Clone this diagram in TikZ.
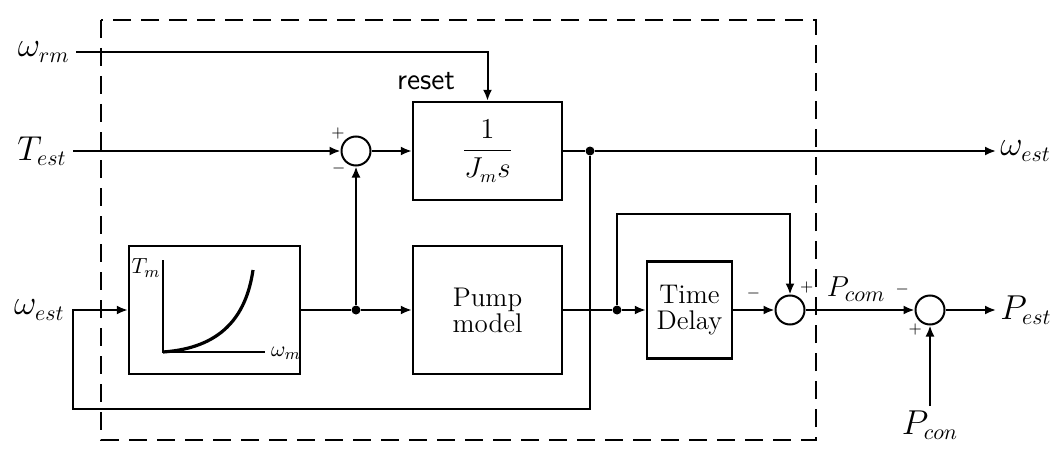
\documentclass[tikz,border=0pt]{standalone}
\usetikzlibrary{arrows.meta, positioning}
\begin{document}
\begin{tikzpicture}[x=0.5pt, y=-0.5pt,
	block/.style={rectangle, draw=black, line width=1.2pt, align=center, inner sep=0pt,
	              font=\fontsize{13.5}{14}\selectfont},
	sumnode/.style={circle, draw=black, line width=1pt, minimum size=14.5pt, inner sep=0pt},
	dot/.style={circle, fill=black, minimum size=4.5pt, inner sep=0pt},
	sig/.style={line width=1pt},
	arr/.style={-{Latex[length=5.5pt,width=4.5pt]}, line width=1pt},
	lbl/.style={font=\fontsize{16}{18}\selectfont, inner sep=1pt},
	sgn/.style={font=\fontsize{8}{9}\selectfont, inner sep=0pt}
	]
\useasboundingbox (0,0) rectangle (1059,449);

% Rahmen des Beobachters
\draw[dash pattern=on 9pt off 5pt, line width=0.7pt] (101,20) rectangle (816,440);

% Bloecke
\node[block, minimum width=74.5pt, minimum height=49pt] (J) at (487.5,151) {$\displaystyle\frac{1}{J_m s}$};
\node[block, minimum width=85.5pt, minimum height=64pt] (curve) at (214.5,310) {};
\node[block, minimum width=74.5pt, minimum height=64pt] (pump) at (487.5,310) {Pump\\[-1pt] model};
\node[block, minimum width=42.5pt, minimum height=48.5pt] (delay) at (689.5,310) {Time\\[-1pt] Delay};

% Kennlinie im Block
\draw[line width=1pt] (163,260) -- (163,352) -- (265,352);
\draw[line width=1.6pt] (163,352) .. controls (220,348) and (246,318) .. (253,270);
\node[font=\fontsize{11}{12}\selectfont, inner sep=0pt] at (146,268) {$T_m$};
\node[font=\fontsize{11}{12}\selectfont, inner sep=0pt] at (286,353) {$\omega_m$};

% Summierstellen
\node[sumnode, label={[sgn, label distance=0pt]135:$+$}, label={[sgn, label distance=0pt]228:$-$}] (s1) at (356,151) {};
\node[sumnode, label={[sgn, label distance=8pt]160:$-$}, label={[sgn, label distance=2pt]60:$+$}] (s2) at (790,310) {};
\node[sumnode, label={[sgn, label distance=5pt]145:$-$}, label={[sgn, label distance=0pt]240:$+$}] (s3) at (930,310) {};

% Verzweigungen
\node[dot] (d1) at (590,151) {};
\node[dot] (d2) at (356,310) {};
\node[dot] (d3) at (617,310) {};

% Ein- und Ausgaenge
\coordinate (wrm) at (76,52);
\coordinate (Tin) at (73,151);
\coordinate (win) at (73,310);
\coordinate (wout) at (996,151);
\coordinate (Pout) at (996,310);
\coordinate (Pcin) at (930,406);
\node[lbl, left=2pt of wrm] {$\omega_{rm}$};
\node[lbl, left=2pt of Tin] {$T_{est}$};
\node[lbl, left=3pt of win] {$\omega_{est}$};
\node[lbl, right=1pt of wout] {$\omega_{est}$};
\node[lbl, right=1pt of Pout] {$P_{est}$};
\node[lbl, below=1pt of Pcin] {$P_{con}$};
\node[lbl, font=\fontsize{15}{17}\selectfont] at (856,289) {$P_{com}$};
\node[font=\sffamily\fontsize{15}{16}\selectfont, inner sep=0pt] at (426,81) {reset};

% Signalfluss
\draw[arr] (wrm) -| (J.north);
\draw[arr] (Tin) -- (s1.west);
\draw[arr] (s1.east) -- (J.west);
\draw[sig] (J.east) -- (d1);
\draw[arr] (d1) -- (wout);
\draw[arr] (d1) -- ++(0,258) -| (win) -- (curve.west);
\draw[sig] (curve.east) -- (d2);
\draw[arr] (d2) -- (pump.west);
\draw[arr] (d2) -- (s1.south);
\draw[sig] (pump.east) -- (d3);
\draw[arr] (d3) -- (delay.west);
\draw[arr] (d3) -- ++(0,-96) -| (s2.north);
\draw[arr] (delay.east) -- (s2.west);
\draw[arr] (s2.east) -- (s3.west);
\draw[arr] (s3.east) -- (Pout);
\draw[arr] (Pcin) -- (s3.south);

\end{tikzpicture}
\end{document}
